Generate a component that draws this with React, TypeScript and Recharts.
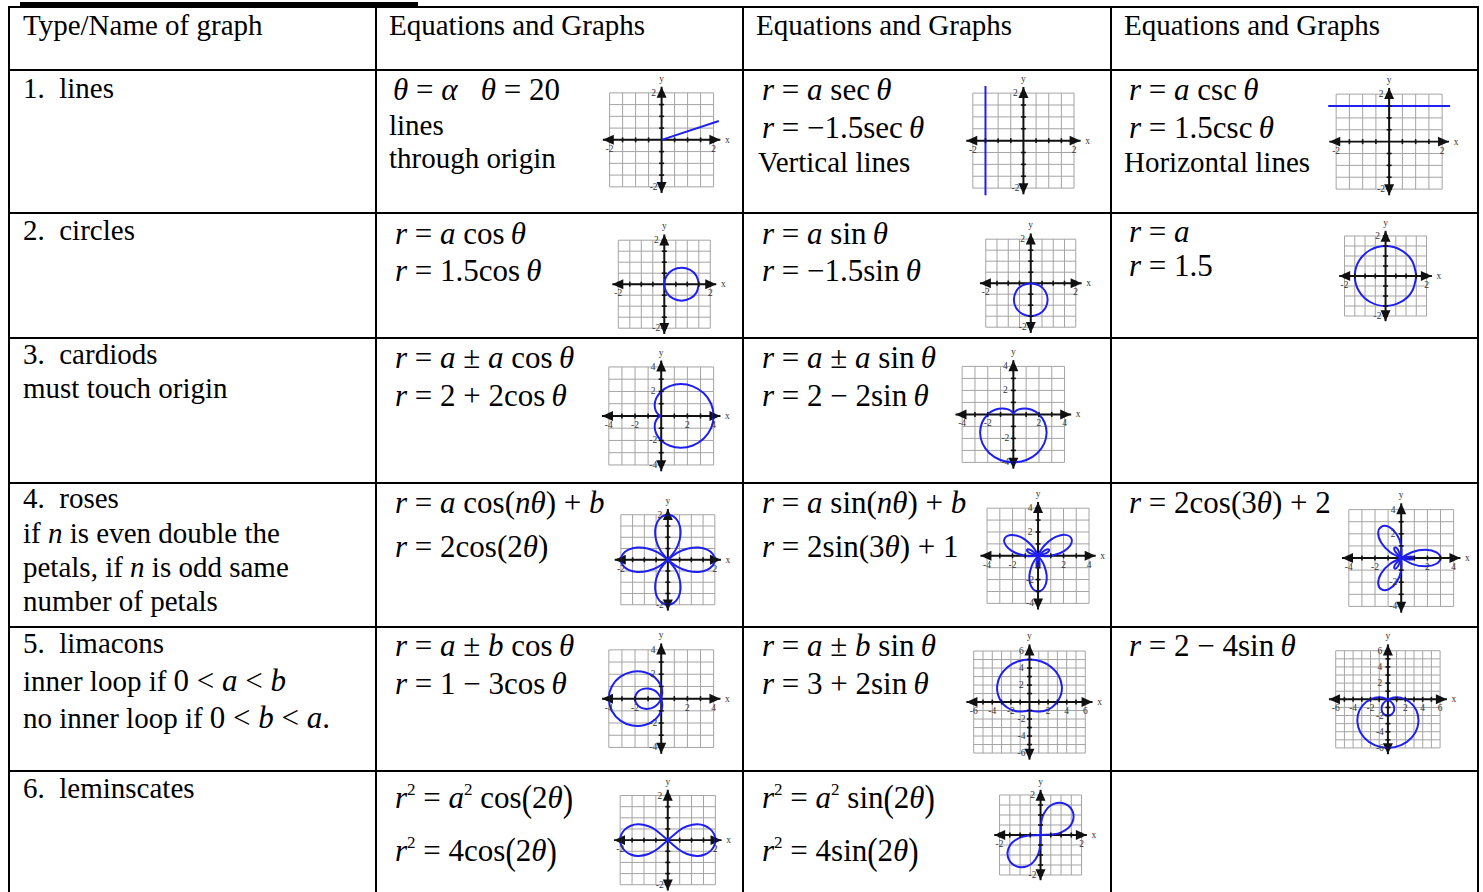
import { LineChart, Line, XAxis, YAxis, ReferenceLine, ReferenceDot } from "recharts";

type Pt = { x: number; y: number };
const P = (x: number, y: number): Pt => ({ x, y });

// tick labels on the little axes
const LABELS_2 = [-2, 2];
const LABELS_4 = [-4, -2, 2, 4];
const LABELS_6 = [-6, -4, -2, 2, 4, 6];

// 1. lines
const rayTheta20 = [P(0, 0), P(2.2, 0.8)];
const lineSec = [P(-1.5, -2.3), P(-1.5, 2.3)];
const lineCsc = [P(-2.3, 1.5), P(2.3, 1.5)];

// 2. circles
const circleCos = [P(1.5, 0), P(1.4, 0.375), P(1.125, 0.65), P(0.75, 0.75), P(0.375, 0.65), P(0.1, 0.375), P(0, 0), P(0.1, -0.375), P(0.375, -0.65), P(0.75, -0.75), P(1.125, -0.65), P(1.4, -0.375), P(1.5, 0)];
const circleSin = [P(0, 0), P(0.375, -0.1), P(0.65, -0.375), P(0.75, -0.75), P(0.65, -1.125), P(0.375, -1.4), P(0, -1.5), P(-0.375, -1.4), P(-0.65, -1.125), P(-0.75, -0.75), P(-0.65, -0.375), P(-0.375, -0.1), P(0, 0)];
const circleR = [P(1.5, 0), P(1.3, 0.75), P(0.75, 1.3), P(0, 1.5), P(-0.75, 1.3), P(-1.3, 0.75), P(-1.5, 0), P(-1.3, -0.75), P(-0.75, -1.3), P(0, -1.5), P(0.75, -1.3), P(1.3, -0.75), P(1.5, 0)];

// 3. cardioids
const cardioidCos = [P(0, 0), P(-0.066, -0.018), P(-0.232, -0.134), P(-0.414, -0.414), P(-0.5, -0.866), P(-0.384, -1.432), P(0, -2), P(0.652, -2.432), P(1.5, -2.598), P(2.414, -2.414), P(3.232, -1.866), P(3.798, -1.018), P(4, 0), P(3.798, 1.018), P(3.232, 1.866), P(2.414, 2.414), P(1.5, 2.598), P(0.652, 2.432), P(0, 2), P(-0.384, 1.432), P(-0.5, 0.866), P(-0.414, 0.414), P(-0.232, 0.134), P(-0.066, 0.018), P(0, 0)];
const cardioidSin = [P(0, 0), P(-0.018, 0.066), P(-0.134, 0.232), P(-0.414, 0.414), P(-0.866, 0.5), P(-1.432, 0.384), P(-2, 0), P(-2.432, -0.652), P(-2.598, -1.5), P(-2.414, -2.414), P(-1.866, -3.232), P(-1.018, -3.798), P(0, -4), P(1.018, -3.798), P(1.866, -3.232), P(2.414, -2.414), P(2.598, -1.5), P(2.432, -0.652), P(2, 0), P(1.432, 0.384), P(0.866, 0.5), P(0.414, 0.414), P(0.134, 0.232), P(0.018, 0.066), P(0, 0)];

// 4. roses
const roseCos2Right = [P(0, 0), P(0.411, -0.315), P(0.866, -0.5), P(1.307, -0.541), P(1.673, -0.448), P(1.915, -0.252), P(2, 0), P(1.915, 0.252), P(1.673, 0.448), P(1.307, 0.541), P(0.866, 0.5), P(0.411, 0.315), P(0, 0)];
const roseCos2Top = [P(0, 0), P(0.315, 0.411), P(0.5, 0.866), P(0.541, 1.307), P(0.448, 1.673), P(0.252, 1.915), P(0, 2), P(-0.252, 1.915), P(-0.448, 1.673), P(-0.541, 1.307), P(-0.5, 0.866), P(-0.315, 0.411), P(0, 0)];
const roseCos2Left = [P(0, 0), P(-0.411, 0.315), P(-0.866, 0.5), P(-1.307, 0.541), P(-1.673, 0.448), P(-1.915, 0.252), P(-2, 0), P(-1.915, -0.252), P(-1.673, -0.448), P(-1.307, -0.541), P(-0.866, -0.5), P(-0.411, -0.315), P(0, 0)];
const roseCos2Bottom = [P(0, 0), P(-0.315, -0.411), P(-0.5, -0.866), P(-0.541, -1.307), P(-0.448, -1.673), P(-0.252, -1.915), P(0, -2), P(0.252, -1.915), P(0.448, -1.673), P(0.541, -1.307), P(0.5, -0.866), P(0.315, -0.411), P(0, 0)];

const roseSin3A = [P(0, 0), P(0.48, -0.042), P(1, 0), P(1.75, 0.23), P(2.332, 0.625), P(2.631, 1.09), P(2.598, 1.5), P(2.259, 1.734), P(1.707, 1.707), P(1.074, 1.4), P(0.5, 0.866), P(0.204, 0.437), P(0, 0)];
const roseSin3B = [P(0, 0), P(-0.204, 0.437), P(-0.5, 0.866), P(-1.074, 1.401), P(-1.707, 1.707), P(-2.26, 1.733), P(-2.598, 1.5), P(-2.632, 1.089), P(-2.332, 0.624), P(-1.749, 0.23), P(-1, 0), P(-0.48, -0.042), P(0, 0)];
const roseSin3C = [P(0, 0), P(-0.276, -0.395), P(-0.5, -0.866), P(-0.676, -1.631), P(-0.625, -2.333), P(-0.372, -2.823), P(0, -3), P(0.372, -2.823), P(0.624, -2.332), P(0.675, -1.63), P(0.5, -0.866), P(0.276, -0.396), P(0, 0)];
const roseSin3Loop1 = [P(0, 0), P(-0.127, -0.721), P(0, -1), P(0.127, -0.721), P(0, 0)];
const roseSin3Loop2 = [P(0, 0), P(0.688, 0.25), P(0.866, 0.5), P(0.561, 0.471), P(0, 0)];
const roseSin3Loop3 = [P(0, 0), P(-0.561, 0.471), P(-0.866, 0.5), P(-0.688, 0.25), P(0, 0)];

const roseCos3A = [P(0, 0), P(0.866, -0.5), P(1.879, -0.684), P(2.69, -0.474), P(3, 0), P(2.69, 0.474), P(1.879, 0.684), P(0.866, 0.5), P(0, 0)];
const roseCos3B = [P(0, 0), P(0, 1), P(-0.347, 1.969), P(-0.935, 2.567), P(-1.5, 2.598), P(-1.755, 2.093), P(-1.532, 1.285), P(-0.866, 0.5), P(0, 0)];
const roseCos3C = [P(0, 0), P(-0.866, -0.5), P(-1.532, -1.285), P(-1.755, -2.093), P(-1.5, -2.598), P(-0.935, -2.567), P(-0.347, -1.969), P(0, -1), P(0, 0)];
const roseCos3Loop1 = [P(0, 0), P(-0.471, -0.561), P(-0.5, -0.866), P(-0.25, -0.688), P(0, 0)];
const roseCos3Loop2 = [P(0, 0), P(0.722, -0.127), P(1, 0), P(0.721, 0.127), P(0, 0)];
const roseCos3Loop3 = [P(0, 0), P(-0.25, 0.689), P(-0.5, 0.866), P(-0.471, 0.561), P(0, 0)];

// 5. limacons
const limaconCosInner = [P(0, 0), P(-0.25, 0.433), P(-0.597, 0.711), P(-0.994, 0.834), P(-1.384, 0.799), P(-1.71, 0.622), P(-1.925, 0.339), P(-2, 0), P(-1.925, -0.339), P(-1.71, -0.622), P(-1.384, -0.799), P(-0.994, -0.834), P(-0.597, -0.711), P(-0.25, -0.433), P(0, 0)];
const limaconCosOuter = [P(0, 0), P(0.083, 0.472), P(0, 1), P(-0.46, 1.716), P(-1.25, 2.165), P(-2.207, 2.207), P(-3.116, 1.799), P(-3.765, 1.009), P(-4, 0), P(-3.765, -1.009), P(-3.116, -1.799), P(-2.207, -2.207), P(-1.25, -2.165), P(-0.46, -1.716), P(0, -1), P(0.083, -0.472), P(0, 0)];
const limaconSin = [P(3, 0), P(3.398, 0.911), P(3.464, 2), P(3.121, 3.121), P(2.366, 4.098), P(1.277, 4.764), P(0, 5), P(-1.277, 4.764), P(-2.366, 4.098), P(-3.121, 3.121), P(-3.464, 2), P(-3.398, 0.911), P(-3, 0), P(-2.397, -0.642), P(-1.732, -1), P(-1.121, -1.121), P(-0.634, -1.098), P(-0.276, -1.032), P(0, -1), P(0.276, -1.032), P(0.634, -1.098), P(1.121, -1.121), P(1.732, -1), P(2.397, -0.642), P(3, 0)];
const limaconSin4Inner = [P(0, 0), P(-0.586, -0.586), P(-0.732, -1.268), P(-0.482, -1.8), P(0, -2), P(0.482, -1.8), P(0.732, -1.268), P(0.586, -0.586), P(0, 0)];
const limaconSin4Outer = [P(0, 0), P(-0.932, 0.25), P(-2, 0), P(-2.932, -0.786), P(-3.464, -2), P(-3.414, -3.414), P(-2.732, -4.732), P(-1.518, -5.664), P(0, -6), P(1.518, -5.664), P(2.732, -4.732), P(3.414, -3.414), P(3.464, -2), P(2.932, -0.786), P(2, 0), P(0.932, 0.25), P(0, 0)];

// 6. lemniscates
const lemnCosRight = [P(0, 0), P(0.481, -0.433), P(0.808, -0.62), P(1.225, -0.707), P(1.554, -0.644), P(1.798, -0.482), P(1.949, -0.257), P(2, 0), P(1.949, 0.257), P(1.798, 0.482), P(1.554, 0.644), P(1.225, 0.707), P(0.808, 0.62), P(0.481, 0.433), P(0, 0)];
const lemnCosLeft = [P(0, 0), P(-0.481, -0.433), P(-0.808, -0.62), P(-1.225, -0.707), P(-1.554, -0.644), P(-1.798, -0.482), P(-1.949, -0.257), P(-2, 0), P(-1.949, 0.257), P(-1.798, 0.482), P(-1.554, 0.644), P(-1.225, 0.707), P(-0.808, 0.62), P(-0.481, 0.433), P(0, 0)];
const lemnSinUpper = [P(0, 0), P(0.646, 0.034), P(1.01, 0.133), P(1.366, 0.366), P(1.554, 0.643), P(1.612, 0.93), P(1.56, 1.196), P(1.414, 1.414), P(1.196, 1.56), P(0.93, 1.612), P(0.643, 1.554), P(0.366, 1.366), P(0.133, 1.01), P(0.034, 0.646), P(0, 0)];
const lemnSinLower = [P(0, 0), P(-0.646, -0.034), P(-1.01, -0.133), P(-1.366, -0.366), P(-1.554, -0.643), P(-1.612, -0.93), P(-1.56, -1.196), P(-1.414, -1.414), P(-1.196, -1.56), P(-0.93, -1.612), P(-0.643, -1.554), P(-0.366, -1.366), P(-0.133, -1.01), P(-0.034, -0.646), P(0, 0)];

const SERIF = "'Liberation Serif', 'Times New Roman', serif";
const BLUE = "#1f1ff0";
const GRID = "#a4a4a4";
const INK = "#111";

const COL_X = [8, 375, 742, 1110, 1477];
const ROW_Y = [6, 69, 212, 337, 482, 626, 770];

interface GraphProps {
  ox: number;
  oy: number;
  sx: number;
  sy: number;
  range: number;
  step: number;
  labels: number[];
  curves: Pt[][];
}

const arrowAxis = (p: any) => {
  const { x1, y1, x2, y2 } = p;
  const len = Math.hypot(x2 - x1, y2 - y1) || 1;
  const ux = (x2 - x1) / len;
  const uy = (y2 - y1) / len;
  const head = (tx: number, ty: number, dx: number, dy: number) => {
    const bx = tx - dx * 11;
    const by = ty - dy * 11;
    return `${tx},${ty} ${bx - dy * 5},${by + dx * 5} ${bx + dy * 5},${by - dx * 5}`;
  };
  return (
    <g>
      <line x1={x1} y1={y1} x2={x2} y2={y2} stroke={INK} strokeWidth={2} />
      <polygon points={head(x2, y2, ux, uy)} fill={INK} />
      <polygon points={head(x1, y1, -ux, -uy)} fill={INK} />
    </g>
  );
};

const smallText = (dx: number, dy: number, text: string) => (p: any) => (
  <text x={p.cx + dx} y={p.cy + dy} textAnchor="middle" fontSize={9.5} fontFamily={SERIF} fill="#333">
    {text}
  </text>
);

const MiniGraph = ({ ox, oy, sx, sy, range, step, labels, curves }: GraphProps) => {
  const D = range * 1.55;
  const A = range * 1.13;
  const grid: number[] = [];
  for (let i = -range / step; i <= range / step; i++) grid.push(i * step);
  const ticks = grid.filter((v) => v !== 0);

  return (
    <div style={{ position: "absolute", left: ox - D * sx, top: oy - D * sy }}>
      <LineChart width={2 * D * sx} height={2 * D * sy} margin={{ top: 0, right: 0, bottom: 0, left: 0 }}>
        <XAxis type="number" dataKey="x" domain={[-D, D]} hide allowDataOverflow />
        <YAxis type="number" dataKey="y" domain={[-D, D]} hide allowDataOverflow />
        {grid.map((v) => (
          <ReferenceLine key={`gx${v}`} segment={[{ x: v, y: -range }, { x: v, y: range }]} stroke={GRID} strokeWidth={1} />
        ))}
        {grid.map((v) => (
          <ReferenceLine key={`gy${v}`} segment={[{ x: -range, y: v }, { x: range, y: v }]} stroke={GRID} strokeWidth={1} />
        ))}
        <ReferenceLine segment={[{ x: -A, y: 0 }, { x: A, y: 0 }]} shape={arrowAxis} />
        <ReferenceLine segment={[{ x: 0, y: -A }, { x: 0, y: A }]} shape={arrowAxis} />
        {ticks.map((v) => (
          <ReferenceDot key={`tx${v}`} x={v} y={0} r={1} shape={(p: any) => <line x1={p.cx} y1={p.cy - 2.5} x2={p.cx} y2={p.cy + 2.5} stroke={INK} strokeWidth={1.6} />} />
        ))}
        {ticks.map((v) => (
          <ReferenceDot key={`ty${v}`} x={0} y={v} r={1} shape={(p: any) => <line x1={p.cx - 2.5} y1={p.cy} x2={p.cx + 2.5} y2={p.cy} stroke={INK} strokeWidth={1.6} />} />
        ))}
        {labels.map((v) => (
          <ReferenceDot key={`lx${v}`} x={v} y={0} r={1} shape={smallText(0, 12, String(v))} />
        ))}
        {labels.map((v) => (
          <ReferenceDot key={`ly${v}`} x={0} y={v} r={1} shape={smallText(-8, 3, String(v))} />
        ))}
        <ReferenceDot x={A} y={0} r={1} shape={smallText(7, 3, "x")} />
        <ReferenceDot x={0} y={A} r={1} shape={smallText(0, -5, "y")} />
        {curves.map((c, i) => (
          <Line
            key={i}
            data={c}
            dataKey="y"
            type={c.length > 2 ? "natural" : "linear"}
            stroke={BLUE}
            strokeWidth={2}
            dot={false}
            activeDot={false}
            isAnimationActive={false}
          />
        ))}
      </LineChart>
    </div>
  );
};

const GRAPHS: GraphProps[] = [
  { ox: 662, oy: 140, sx: 26, sy: 23.5, range: 2, step: 0.5, labels: LABELS_2, curves: [rayTheta20] },
  { ox: 1023, oy: 141, sx: 25.3, sy: 23.75, range: 2, step: 0.5, labels: LABELS_2, curves: [lineSec] },
  { ox: 1389, oy: 142, sx: 26.5, sy: 23.75, range: 2, step: 0.5, labels: LABELS_2, curves: [lineCsc] },
  { ox: 664, oy: 284, sx: 23, sy: 22, range: 2, step: 0.5, labels: LABELS_2, curves: [circleCos] },
  { ox: 1031, oy: 283, sx: 22.5, sy: 22, range: 2, step: 0.5, labels: LABELS_2, curves: [circleSin] },
  { ox: 1386, oy: 276, sx: 20.5, sy: 20, range: 2, step: 0.5, labels: LABELS_2, curves: [circleR] },
  { ox: 661, oy: 416, sx: 13.1, sy: 12.25, range: 4, step: 1, labels: LABELS_4, curves: [cardioidCos] },
  { ox: 1013, oy: 414, sx: 12.8, sy: 12, range: 4, step: 1, labels: LABELS_4, curves: [cardioidSin] },
  { ox: 668, oy: 560, sx: 23.5, sy: 22.5, range: 2, step: 0.5, labels: LABELS_2, curves: [roseCos2Right, roseCos2Top, roseCos2Left, roseCos2Bottom] },
  { ox: 1038, oy: 556, sx: 12.75, sy: 11.9, range: 4, step: 1, labels: LABELS_4, curves: [roseSin3A, roseSin3B, roseSin3C, roseSin3Loop1, roseSin3Loop2, roseSin3Loop3] },
  { ox: 1401, oy: 558, sx: 13.1, sy: 12.1, range: 4, step: 1, labels: LABELS_4, curves: [roseCos3A, roseCos3B, roseCos3C, roseCos3Loop1, roseCos3Loop2, roseCos3Loop3] },
  { ox: 661, oy: 699, sx: 13.1, sy: 12.2, range: 4, step: 1, labels: LABELS_4, curves: [limaconCosInner, limaconCosOuter] },
  { ox: 1029, oy: 702, sx: 9.3, sy: 8.5, range: 6, step: 1, labels: LABELS_6, curves: [limaconSin] },
  { ox: 1388, oy: 699, sx: 8.7, sy: 8.1, range: 6, step: 1, labels: LABELS_6, curves: [limaconSin4Inner, limaconSin4Outer] },
  { ox: 668, oy: 840, sx: 23.8, sy: 22.3, range: 2, step: 0.5, labels: LABELS_2, curves: [lemnCosRight, lemnCosLeft] },
  { ox: 1041, oy: 835, sx: 20.5, sy: 20, range: 2, step: 0.5, labels: LABELS_2, curves: [lemnSinUpper, lemnSinLower] },
];

// text placed by its baseline
const Txt = ({ x, y, size = 29, children }: { x: number; y: number; size?: number; children: React.ReactNode }) => (
  <div style={{ position: "absolute", left: x, top: y - 0.8375 * size, fontSize: size, lineHeight: 1, whiteSpace: "pre" }}>
    {children}
  </div>
);
const Eq = ({ x, y, children }: { x: number; y: number; children: React.ReactNode }) => (
  <Txt x={x} y={y} size={31}>{children}</Txt>
);
const Sup = ({ children }: { children: React.ReactNode }) => (
  <span style={{ fontSize: 17, position: "relative", top: -13 }}>{children}</span>
);
const Big = ({ children }: { children: React.ReactNode }) => (
  <span style={{ display: "inline-block", transform: "scale(1, 1.25)" }}>{children}</span>
);

const T = "\u03b8";
const MINUS = "\u2212";
const PM = "\u00b1";
const TH = "\u2009";

export default function App() {
  return (
    <div
      style={{
        position: "absolute",
        left: 0,
        top: 0,
        width: 1483,
        height: 892,
        overflow: "hidden",
        background: "#fff",
        fontFamily: SERIF,
        color: "#000",
      }}
    >
      {ROW_Y.map((y) => (
        <div key={`h${y}`} style={{ position: "absolute", left: COL_X[0], top: y, width: COL_X[4] - COL_X[0] + 1.5, height: 1.5, background: "#000" }} />
      ))}
      {COL_X.map((x) => (
        <div key={`v${x}`} style={{ position: "absolute", left: x, top: ROW_Y[0], width: 1.5, height: 892 - ROW_Y[0], background: "#000" }} />
      ))}
      <div style={{ position: "absolute", left: 20, top: 2, width: 398, height: 3.5, background: "#000" }} />

      {/* column 1 */}
      <Txt x={23} y={35}>Type/Name of graph</Txt>
      <Txt x={23} y={98}>1.  lines</Txt>
      <Txt x={23} y={240}>2.  circles</Txt>
      <Txt x={23} y={364}>3.  cardiods</Txt>
      <Txt x={23} y={398}>must touch origin</Txt>
      <Txt x={23} y={508}>4.  roses</Txt>
      <Txt x={23} y={543}>if <i>n</i> is even double the</Txt>
      <Txt x={23} y={577}>petals, if <i>n</i> is odd same</Txt>
      <Txt x={23} y={611}>number of petals</Txt>
      <Txt x={23} y={653}>5.  limacons</Txt>
      <Txt x={23} y={689}>
        inner loop if <span style={{ fontSize: 31 }}>0 {"<"} <i>a</i> {"<"} <i>b</i></span>
      </Txt>
      <Txt x={23} y={726}>
        no inner loop if <span style={{ fontSize: 31 }}>0 {"<"} <i>b</i> {"<"} <i>a</i>.</span>
      </Txt>
      <Txt x={23} y={798}>6.  leminscates</Txt>

      {/* column 2 */}
      <Txt x={389} y={35}>Equations and Graphs</Txt>
      <Eq x={393} y={100}><i>{T}</i> = <i>α</i>   <i>{T}</i> = 20</Eq>
      <Txt x={389} y={135}>lines</Txt>
      <Txt x={389} y={168}>through origin</Txt>
      <Eq x={395} y={244}><i>r</i> = <i>a</i> cos{TH}<i>{T}</i></Eq>
      <Eq x={395} y={281}><i>r</i> = 1.5cos{TH}<i>{T}</i></Eq>
      <Eq x={395} y={368}><i>r</i> = <i>a</i> {PM} <i>a</i> cos{TH}<i>{T}</i></Eq>
      <Eq x={395} y={406}><i>r</i> = 2 + 2cos{TH}<i>{T}</i></Eq>
      <Eq x={395} y={513}><i>r</i> = <i>a</i> cos(<i>n{T}</i>) + <i>b</i></Eq>
      <Eq x={395} y={557}><i>r</i> = 2cos(2<i>{T}</i>)</Eq>
      <Eq x={395} y={656}><i>r</i> = <i>a</i> {PM} <i>b</i> cos{TH}<i>{T}</i></Eq>
      <Eq x={395} y={694}><i>r</i> = 1 {MINUS} 3cos{TH}<i>{T}</i></Eq>
      <Eq x={395} y={808}><i>r</i><Sup>2</Sup> = <i>a</i><Sup>2</Sup> cos<Big>(</Big>2<i>{T}</i><Big>)</Big></Eq>
      <Eq x={395} y={861}><i>r</i><Sup>2</Sup> = 4cos<Big>(</Big>2<i>{T}</i><Big>)</Big></Eq>

      {/* column 3 */}
      <Txt x={756} y={35}>Equations and Graphs</Txt>
      <Eq x={762} y={100}><i>r</i> = <i>a</i> sec{TH}<i>{T}</i></Eq>
      <Eq x={762} y={138}><i>r</i> = {MINUS}1.5sec{TH}<i>{T}</i></Eq>
      <Txt x={758} y={172}>Vertical lines</Txt>
      <Eq x={762} y={244}><i>r</i> = <i>a</i> sin{TH}<i>{T}</i></Eq>
      <Eq x={762} y={281}><i>r</i> = {MINUS}1.5sin{TH}<i>{T}</i></Eq>
      <Eq x={762} y={368}><i>r</i> = <i>a</i> {PM} <i>a</i> sin{TH}<i>{T}</i></Eq>
      <Eq x={762} y={406}><i>r</i> = 2 {MINUS} 2sin{TH}<i>{T}</i></Eq>
      <Eq x={762} y={513}><i>r</i> = <i>a</i> sin(<i>n{T}</i>) + <i>b</i></Eq>
      <Eq x={762} y={557}><i>r</i> = 2sin(3<i>{T}</i>) + 1</Eq>
      <Eq x={762} y={656}><i>r</i> = <i>a</i> {PM} <i>b</i> sin{TH}<i>{T}</i></Eq>
      <Eq x={762} y={694}><i>r</i> = 3 + 2sin{TH}<i>{T}</i></Eq>
      <Eq x={762} y={808}><i>r</i><Sup>2</Sup> = <i>a</i><Sup>2</Sup> sin<Big>(</Big>2<i>{T}</i><Big>)</Big></Eq>
      <Eq x={762} y={861}><i>r</i><Sup>2</Sup> = 4sin<Big>(</Big>2<i>{T}</i><Big>)</Big></Eq>

      {/* column 4 */}
      <Txt x={1124} y={35}>Equations and Graphs</Txt>
      <Eq x={1129} y={100}><i>r</i> = <i>a</i> csc{TH}<i>{T}</i></Eq>
      <Eq x={1129} y={138}><i>r</i> = 1.5csc{TH}<i>{T}</i></Eq>
      <Txt x={1124} y={172}>Horizontal lines</Txt>
      <Eq x={1129} y={242}><i>r</i> = <i>a</i></Eq>
      <Eq x={1129} y={276}><i>r</i> = 1.5</Eq>
      <Eq x={1129} y={513}><i>r</i> = 2cos(3<i>{T}</i>) + 2</Eq>
      <Eq x={1129} y={656}><i>r</i> = 2 {MINUS} 4sin{TH}<i>{T}</i></Eq>

      {GRAPHS.map((g, i) => (
        <MiniGraph key={i} {...g} />
      ))}
    </div>
  );
}
